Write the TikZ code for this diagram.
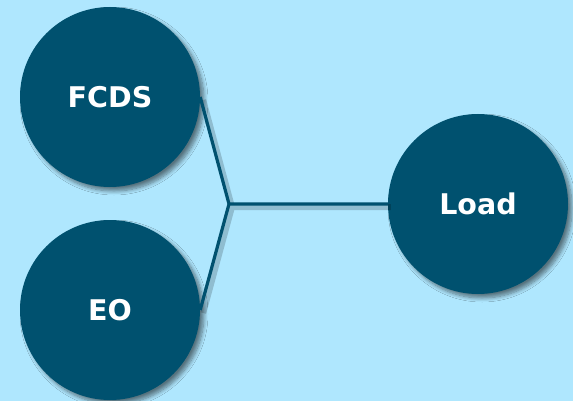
\documentclass[tikz,border=0pt]{standalone}
\usepackage{fontspec}
\setmainfont{DejaVu Sans}
\usetikzlibrary{shadows.blur}
\definecolor{paleblue}{HTML}{AFE7FE}
\definecolor{darkteal}{HTML}{00516F}

\begin{document}
\begin{tikzpicture}[x=1pt,y=-1pt,
        main node/.style={circle,fill=darkteal,text=white,minimum size=180pt,inner sep=0pt,
            font=\bfseries\fontsize{28.5}{32}\selectfont,
            blur shadow={shadow xshift=4pt,shadow yshift=-4pt,shadow blur radius=4pt,shadow blur steps=8,shadow opacity=50}},
        link/.style={draw=darkteal,line width=3.2pt,
            preaction={draw=black,opacity=0.18,line width=6pt,transform canvas={shift={(3pt,-3pt)}}}}]
                \useasboundingbox (0,0) rectangle (573,401);
                \fill[paleblue] (0,0) rectangle (573,401);

                \node[main node] at (110,97) (fcds) {FCDS};
                \node[main node] at (110,310) (eo) {EO};
                \node[main node] at (478,204) (load) {Load};
                \coordinate (hub) at (229,204);

                \draw[link] (fcds.east) -- (hub) -- (eo.east)
                    (hub) -- (load.west);
            \end{tikzpicture}
\end{document}
